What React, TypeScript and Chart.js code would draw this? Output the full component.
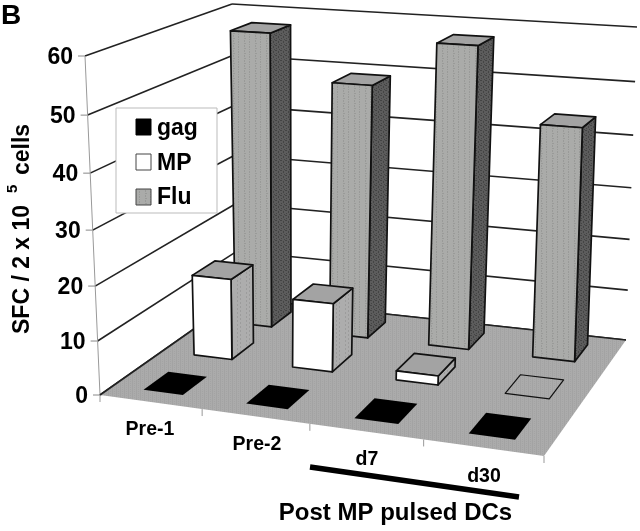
import React, { useEffect, useRef } from "react";
import { Chart, registerables } from "chart.js";

Chart.register(...registerables);

const categories = ["Pre-1", "Pre-2", "d7", "d30"];
const seriesNames = ["gag", "MP", "Flu"];
const gagValues = [0, 0, 0, 0];
const mpValues = [15.5, 13, 1.7, 0];
const fluValues = [57.5, 49, 57.5, 44];
const yTicks = [0, 10, 20, 30, 40, 50, 60];

const FONT = '"Liberation Sans", Arial, sans-serif';
type P = [number, number];

// Projected corners of the floor and of the plane at the axis maximum.
const FLOOR: P[] = [[100, 395], [544, 456], [626, 340], [238, 298]];
const TOP: P[] = [[85, 56], [553, 85], [637, 27], [232, 4]];
const HEIGHT_PERSPECTIVE = 1.056;
const ROW_DEPTH = 0.5;
const ROW_SHIFT = [0, 0.006, 0];

function homography(q: P[]) {
  const [[x0, y0], [x1, y1], [x2, y2], [x3, y3]] = q;
  const dx1 = x1 - x2, dx2 = x3 - x2, sx = x0 - x1 + x2 - x3;
  const dy1 = y1 - y2, dy2 = y3 - y2, sy = y0 - y1 + y2 - y3;
  const den = dx1 * dy2 - dx2 * dy1;
  const g = (sx * dy2 - dx2 * sy) / den;
  const h = (dx1 * sy - sx * dy1) / den;
  const a = x1 - x0 + g * x1, b = x3 - x0 + h * x3;
  const d = y1 - y0 + g * y1, e = y3 - y0 + h * y3;
  return (s: number, t: number): P => {
    const w = g * s + h * t + 1;
    return [(a * s + b * t + x0) / w, (d * s + e * t + y0) / w];
  };
}
const floorMap = homography(FLOOR);
const topMap = homography(TOP);

function project(s: number, t: number, hgt: number): P {
  const f = floorMap(s, t);
  const u = topMap(s, t);
  const k = hgt / (hgt + (1 - hgt) * HEIGHT_PERSPECTIVE);
  return [f[0] + (u[0] - f[0]) * k, f[1] + (u[1] - f[1]) * k];
}

function tile(w: number, h: number, base: string, dark: string, dots: number[][]) {
  const c = document.createElement("canvas");
  c.width = w;
  c.height = h;
  const x = c.getContext("2d")!;
  x.fillStyle = base;
  x.fillRect(0, 0, w, h);
  x.fillStyle = dark;
  dots.forEach(([a, b, dw, dh]) => x.fillRect(a, b, dw, dh));
  return c;
}

function poly(ctx: CanvasRenderingContext2D, pts: P[], fill: any, stroke: string | null, lw = 1.7) {
  ctx.beginPath();
  pts.forEach((p, i) => (i ? ctx.lineTo(p[0], p[1]) : ctx.moveTo(p[0], p[1])));
  ctx.closePath();
  if (fill) {
    ctx.fillStyle = fill;
    ctx.fill();
  }
  if (stroke) {
    ctx.strokeStyle = stroke;
    ctx.lineWidth = lw;
    ctx.lineJoin = "round";
    ctx.stroke();
  }
}

function seg(ctx: CanvasRenderingContext2D, a: P, b: P, color: string, lw: number) {
  ctx.beginPath();
  ctx.moveTo(a[0], a[1]);
  ctx.lineTo(b[0], b[1]);
  ctx.strokeStyle = color;
  ctx.lineWidth = lw;
  ctx.stroke();
}

const scene3d = {
  id: "scene3d",
  beforeDatasetDraw: () => false,
  beforeDatasetsDraw(chart: any) {
    const { ctx, chartArea: area, scales } = chart;
    const yScale = scales.y;
    const nCat = categories.length;
    const toS = (px: number) => (px - area.left) / (area.right - area.left);
    const toH = (px: number) => (area.bottom - px) / (area.bottom - area.top);

    const pat = (c: HTMLCanvasElement) => ctx.createPattern(c, "repeat");
    const floorFill = pat(tile(4, 4, "#ababab", "#a3a3a3", [[0, 0, 1, 4], [2, 1, 1, 1], [2, 3, 1, 1]]));
    const fluFront = pat(tile(11, 5, "#aaaba9", "#999a98", [[2, 0, 1, 2], [2, 3, 2, 1], [7, 1, 1, 2], [7, 4, 1, 1]]));
    const fluSide = pat(tile(5, 5, "#5c5c5c", "#444444", [[0, 0, 2, 1], [3, 1, 1, 2], [1, 3, 1, 1], [4, 4, 1, 1]]));
    const mpSide = pat(tile(9, 4, "#adadad", "#9c9c9c", [[3, 0, 1, 2], [6, 2, 1, 2]]));
    const topFill = "#a3a3a3";

    ctx.save();
    ctx.lineCap = "butt";

    // Walls' gridlines and vertical axis.
    yTicks.forEach((v) => {
      const hgt = toH(yScale.getPixelForValue(v));
      const a = project(0, 0, hgt), b = project(0, 1, hgt), c = project(1, 1, hgt);
      seg(ctx, a, b, "#222", 1.6);
      seg(ctx, b, c, "#222", 1.6);
      seg(ctx, [a[0] - 7, a[1]], a, "#888", 1);
      ctx.fillStyle = "#000";
      ctx.font = `bold 23px ${FONT}`;
      ctx.textAlign = "right";
      ctx.textBaseline = "middle";
      ctx.fillText(String(v), a[0] - 12, a[1] + 2);
    });
    seg(ctx, project(0, 0, 0), project(0, 0, 1), "#999", 1);

    // Floor.
    poly(ctx, [project(0, 0, 0), project(1, 0, 0), project(1, 1, 0), project(0, 1, 0)], floorFill, null);
    seg(ctx, project(0, 0, 0), project(0, 1, 0), "#222", 1.6);
    seg(ctx, project(0, 1, 0), project(1, 1, 0), "#222", 1.6);

    // Category ticks along the front edge.
    for (let i = 0; i <= nCat; i++) {
      const p = project(i / nCat, 0, 0);
      seg(ctx, p, [p[0], p[1] + 7], "#999", 1);
    }

    // Bars, from the back row to the front.
    const nRows = chart.data.datasets.length;
    for (let j = nRows - 1; j >= 0; j--) {
      const meta = chart.getDatasetMeta(j);
      meta.data.forEach((el: any) => {
        const s0 = toS(el.x - el.width / 2) + ROW_SHIFT[j];
        const s1 = toS(el.x + el.width / 2) + ROW_SHIFT[j];
        const tc = (j + 0.5) / nRows;
        const t0 = tc - ROW_DEPTH / nRows / 2;
        const t1 = tc + ROW_DEPTH / nRows / 2;
        const hgt = toH(el.y);
        const f00 = project(s0, t0, 0), f10 = project(s1, t0, 0), f11 = project(s1, t1, 0);
        const u00 = project(s0, t0, hgt), u10 = project(s1, t0, hgt), u11 = project(s1, t1, hgt), u01 = project(s0, t1, hgt);
        const ds = chart.data.datasets[j];
        if (j === 0) {
          poly(ctx, [u00, u10, u11, u01], ds.backgroundColor, null);
          return;
        }
        if (hgt <= 0) {
          poly(ctx, [u00, u10, u11, u01], null, "#111", 1.2);
          return;
        }
        poly(ctx, [f10, f11, u11, u10], j === 2 ? fluSide : mpSide, "#111");
        poly(ctx, [u00, u10, u11, u01], topFill, "#111");
        poly(ctx, [f00, f10, u10, u00], j === 2 ? fluFront : "#ffffff", "#111");
      });
    }

    // Category labels.
    const labelPos: P[] = [[150, 430], [257, 445], [367, 460], [484, 477]];
    ctx.fillStyle = "#000";
    ctx.font = `bold 19.5px ${FONT}`;
    ctx.textAlign = "center";
    ctx.textBaseline = "middle";
    categories.forEach((c, i) => ctx.fillText(c, labelPos[i][0], labelPos[i][1]));

    // Bracket under the post-treatment categories.
    seg(ctx, [310, 467], [519, 497], "#000", 5.5);

    // Axis titles and panel letter.
    ctx.font = `bold 24px ${FONT}`;
    ctx.textBaseline = "alphabetic";
    ctx.textAlign = "center";
    ctx.fillText("Post MP pulsed DCs", 395.5, 520);
    ctx.textAlign = "left";
    ctx.font = `bold 28px ${FONT}`;
    ctx.fillText("B", 1, 24);

    ctx.save();
    ctx.translate(29, 334);
    ctx.rotate(-Math.PI / 2);
    ctx.font = `bold 23px ${FONT}`;
    ctx.fillText("SFC / 2 x 10", 0, 0);
    ctx.fillText("cells", 159, 0);
    ctx.font = `bold 15px ${FONT}`;
    ctx.fillText("5", 141, -12);
    ctx.restore();

    // Legend.
    ctx.fillStyle = "#fff";
    ctx.fillRect(116, 108, 101, 105);
    ctx.strokeStyle = "#bbb";
    ctx.lineWidth = 1;
    ctx.strokeRect(116, 108, 101, 105);
    const rowY = [119, 154, 189];
    const baseY = [135, 170, 204];
    const swatch = [chart.data.datasets[0].backgroundColor, "#ffffff", fluFront];
    seriesNames.forEach((name, i) => {
      ctx.fillStyle = swatch[i];
      ctx.fillRect(136, rowY[i], 15, 16);
      ctx.strokeStyle = i === 0 ? "#000" : "#444";
      ctx.lineWidth = 1;
      ctx.strokeRect(136, rowY[i], 15, 16);
      ctx.fillStyle = "#000";
      ctx.font = `bold 23px ${FONT}`;
      ctx.textAlign = "left";
      ctx.textBaseline = "alphabetic";
      ctx.fillText(name, 157, baseY[i]);
    });
    ctx.restore();
  },
};

export default function App() {
  const ref = useRef<HTMLCanvasElement>(null);
  useEffect(() => {
    const chart = new Chart(ref.current!, {
      type: "bar",
      data: {
        labels: categories,
        datasets: [
          { label: seriesNames[0], data: gagValues, backgroundColor: "#000000" },
          { label: seriesNames[1], data: mpValues, backgroundColor: "#ffffff" },
          { label: seriesNames[2], data: fluValues, backgroundColor: "#a8a8a8" },
        ],
      },
      options: {
        responsive: false,
        animation: false,
        events: [],
        layout: { padding: { left: 100, right: 96, top: 56, bottom: 136 } },
        datasets: { bar: { grouped: false, barPercentage: 0.39, categoryPercentage: 1 } },
        plugins: { legend: { display: false }, tooltip: { enabled: false }, title: { display: false } },
        scales: {
          x: { display: false },
          y: { display: false, min: 0, max: 60, ticks: { stepSize: 10 } },
        },
      },
      plugins: [scene3d],
    } as any);
    return () => chart.destroy();
  }, []);
  return (
    <div style={{ position: "absolute", left: 0, top: 0, width: 640, height: 531, background: "#fff" }}>
      <canvas ref={ref} width={640} height={531} style={{ display: "block" }} />
    </div>
  );
}
